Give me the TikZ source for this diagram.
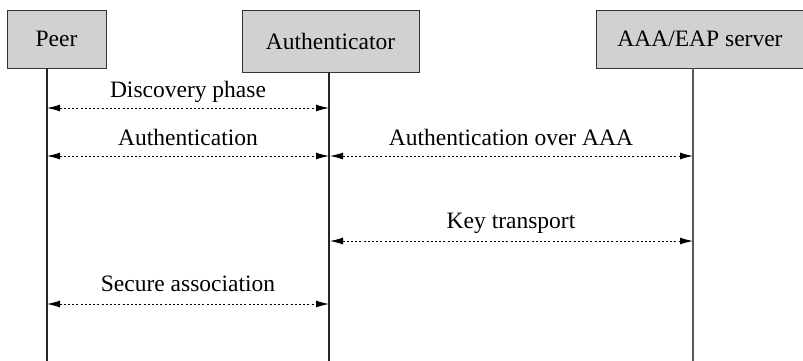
\documentclass[tikz,border=0pt]{standalone}
\usepackage{fontspec}
\setmainfont{Liberation Serif}
\usetikzlibrary{arrows.meta,calc}
\begin{document}
\begin{tikzpicture}[x=1pt,y=-1pt,
  actor/.style={draw=black!80,line width=0.9pt,fill=black!18,inner sep=0pt,
    font=\fontsize{23.5}{27}\selectfont},
  life/.style={line width=1.2pt,draw=black!85},
  msg/.style={line width=1pt,dash pattern=on 2pt off 2.2pt,
    {Latex[length=13pt,width=7pt]}-{Latex[length=13pt,width=7pt]}},
  lbl/.style={anchor=base,font=\fontsize{23.5}{27}\selectfont,inner sep=0pt}]
\useasboundingbox (0,0) rectangle (803,360);
% actors
\node[actor,minimum width=99pt,minimum height=58pt] (peer) at (56.5,39) {Peer};
\node[actor,minimum width=177pt,minimum height=62pt] (auth) at (330.5,41) {Authenticator};
\node[actor,minimum width=208pt,minimum height=58pt] (aaa) at (700,39) {AAA/EAP server};
% lifelines
\coordinate (pB) at (47,362);
\coordinate (aB) at (329,362);
\coordinate (sB) at (693,362);
\draw[life] (peer.south -| pB) -- (pB);
\draw[life] (auth.south -| aB) -- (aB);
\draw[life,draw=black!65] (aaa.south -| sB) -- (sB);
% message endpoints
\coordinate (m1a) at (47,108);  \coordinate (m1b) at (329,108);
\coordinate (m2a) at (47,156);  \coordinate (m2b) at (329,156);
\coordinate (m3a) at (329,156); \coordinate (m3b) at (693,156);
\coordinate (m4a) at (329,241); \coordinate (m4b) at (693,241);
\coordinate (m5a) at (47,304);  \coordinate (m5b) at (329,304);
\draw[msg] (m1a) -- (m1b);
\draw[msg] (m2a) -- (m2b);
\draw[msg] ([xshift=1pt]m3a) -- (m3b);
\draw[msg] ([xshift=1pt]m4a) -- (m4b);
\draw[msg] (m5a) -- (m5b);
% labels
\node[lbl] (l1) at ([yshift=10.5pt]$(m1a)!0.5!(m1b)$) {Discovery phase};
\node[lbl] (l2) at ([yshift=10.5pt]$(m2a)!0.5!(m2b)$) {Authentication};
\node[lbl] (l3) at ([yshift=10.5pt]$(m3a)!0.5!(m3b)$) {Authentication over AAA};
\node[lbl] (l4) at ([yshift=13pt]$(m4a)!0.5!(m4b)$) {Key transport};
\node[lbl] (l5) at ([yshift=12.3pt]$(m5a)!0.5!(m5b)$) {Secure association};
\end{tikzpicture}
\end{document}
